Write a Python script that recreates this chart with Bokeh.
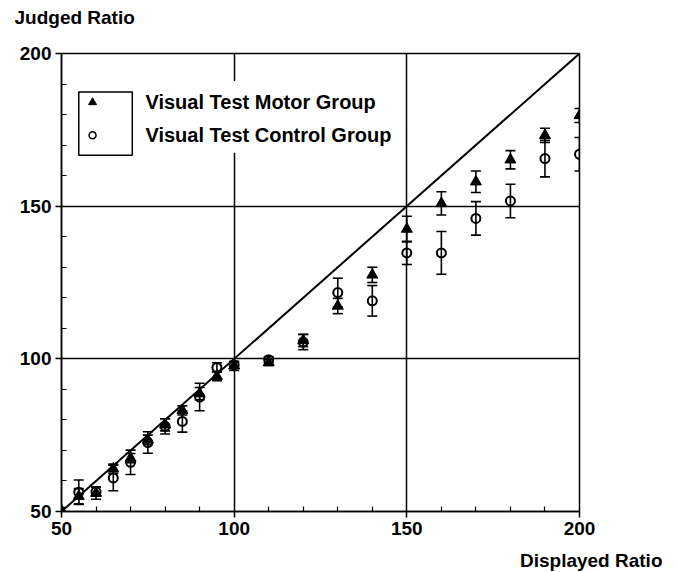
from bokeh.plotting import figure
from bokeh.models import ColumnDataSource, Whisker, TeeHead, FixedTicker, Label, Range1d, Title
from bokeh.embed import file_html
from bokeh.resources import INLINE

# ---- data ----
displayed = [50, 55, 60, 65, 70, 75, 80, 85, 90, 95, 100, 110, 120, 130, 140, 150, 160, 170, 180, 190, 200]
motor = [50.3, 55.0, 56.0, 64.0, 67.5, 73.5, 78.4, 83.1, 88.6, 94.3, 97.7, 98.8, 106.0, 117.3, 127.5, 142.5, 150.9, 158.0, 165.2, 173.2, 179.7]
motor_err = [1.0, 2.5, 2.0, 1.5, 1.5, 1.5, 2.0, 1.5, 2.0, 1.5, 1.5, 1.0, 2.0, 2.5, 2.5, 4.2, 3.8, 3.5, 3.0, 2.3, 2.3]
control = [48.3, 56.3, 56.5, 61.0, 66.1, 72.6, 77.9, 79.5, 87.5, 97.2, 98.0, 99.7, 105.5, 121.7, 119.0, 134.7, 134.7, 146.0, 151.7, 165.6, 167.0]
control_err = [1.0, 4.0, 1.5, 4.2, 4.0, 3.5, 2.5, 3.5, 4.5, 1.5, 1.0, 1.0, 2.5, 4.7, 5.0, 3.8, 7.0, 5.5, 5.5, 6.0, 5.5]
identity = [50, 200]
major_ticks = [50, 100, 150, 200]
minor_ticks = [60, 70, 80, 90, 110, 120, 130, 140, 160, 170, 180, 190]
series_names = ["Visual Test Motor Group", "Visual Test Control Group"]
x_title = "Displayed Ratio"
y_title = "Judged Ratio"

FONT = "Liberation Sans"

p = figure(width=662, height=572, output_backend="svg", toolbar_location=None, title=None,
           x_range=Range1d(50, 200), y_range=Range1d(50, 200),
           min_border_left=61, min_border_right=83, min_border_top=53, min_border_bottom=60)
p.background_fill_color = "white"
p.border_fill_color = "white"
p.outline_line_color = "black"
p.outline_line_width = 1.5

# titles: spacer nearest the frame, then the y title above it
p.add_layout(Title(text=" ", text_font_size="2px", standoff=22), "above")
p.add_layout(Title(text=y_title, align="left", vertical_align="bottom", offset=-47, standoff=0,
                   text_font=FONT, text_font_style="bold", text_font_size="19px",
                   text_color="black"), "above")

# x title below the axis, with a spacer
p.add_layout(Title(text=" ", text_font_size="2px", standoff=8), "below")
p.add_layout(Title(text=x_title, align="right", vertical_align="top", offset=-83, standoff=0,
                   text_font=FONT, text_font_style="bold", text_font_size="19px",
                   text_color="black"), "below")

for ax in (p.xaxis[0], p.yaxis[0]):
    ax.ticker = FixedTicker(ticks=major_ticks, minor_ticks=minor_ticks)
    ax.axis_line_color = "black"
    ax.axis_line_width = 1.5
    ax.major_tick_line_color = "black"
    ax.major_tick_line_width = 1.5
    ax.major_tick_out = 6
    ax.major_tick_in = 0
    ax.minor_tick_line_color = "black"
    ax.minor_tick_line_width = 1.2
    ax.minor_tick_in = 5
    ax.minor_tick_out = 0
    ax.major_label_text_font = FONT
    ax.major_label_text_font_style = "bold"
    ax.major_label_text_font_size = "19px"
    ax.major_label_text_color = "black"
    ax.major_label_standoff = 4

for g in (p.xgrid[0], p.ygrid[0]):
    g.ticker = FixedTicker(ticks=major_ticks)
    g.grid_line_color = "black"
    g.grid_line_width = 1.5

# identity line
p.line(identity, identity, line_color="black", line_width=2)

# error bars
src_m = ColumnDataSource(dict(x=displayed, y=motor,
                              lo=[v - e for v, e in zip(motor, motor_err)],
                              hi=[v + e for v, e in zip(motor, motor_err)]))
src_c = ColumnDataSource(dict(x=displayed, y=control,
                              lo=[v - e for v, e in zip(control, control_err)],
                              hi=[v + e for v, e in zip(control, control_err)]))
for src in (src_m, src_c):
    w = Whisker(source=src, base="x", lower="lo", upper="hi",
                line_color="black", line_width=1.6,
                upper_head=TeeHead(size=10, line_color="black", line_width=1.6),
                lower_head=TeeHead(size=10, line_color="black", line_width=1.6))
    p.add_layout(w)

p.scatter("x", "y", source=src_m, marker="triangle", size=11,
          fill_color="black", line_color="black")
p.scatter("x", "y", source=src_c, marker="circle", size=9,
          fill_color=None, line_color="black", line_width=2)

# legend (manual, box only around glyphs)
p.quad(left=[54], right=[148], bottom=[167.5], top=[191],
       fill_color="white", line_color=None)
p.quad(left=[55.0], right=[70.5], bottom=[166.7], top=[187.4],
       fill_color=None, line_color="black", line_width=1.5)
p.scatter([59.0], [184.0], marker="triangle", size=8, fill_color="black", line_color="black")
p.scatter([59.0], [173.2], marker="circle", size=7, fill_color=None, line_color="black", line_width=1.5)
for yy, name in zip([184.0, 173.2], series_names):
    p.add_layout(Label(x=74.3, y=yy, text=name, text_font=FONT, text_font_style="bold",
                       text_font_size="20px", text_baseline="middle", text_align="left",
                       text_color="black"))

open("out.html", "w").write(file_html(p, INLINE))
